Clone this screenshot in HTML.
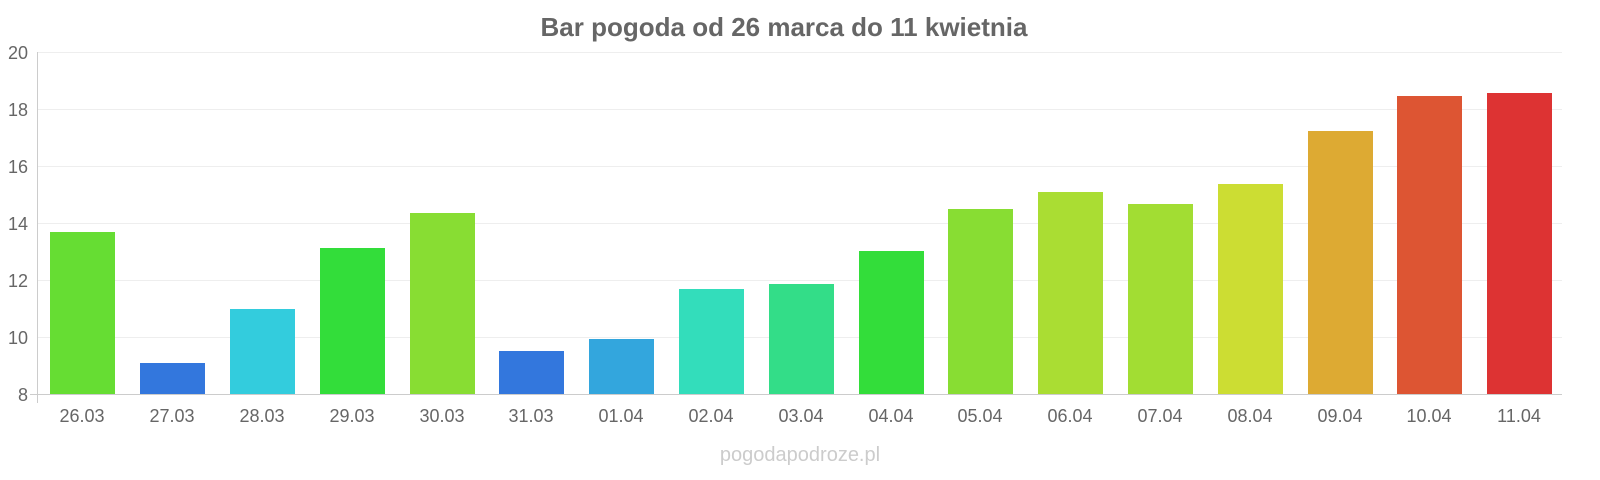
<!DOCTYPE html>
<html><head><meta charset="utf-8"><style>
body{margin:0;background:#fff;}
svg{display:block;font-family:"Liberation Sans",sans-serif;}
</style></head><body>
<svg width="1600" height="480" xmlns="http://www.w3.org/2000/svg">
<text x="784" y="36" text-anchor="middle" font-size="26" font-weight="bold" fill="#666">Bar pogoda od 26 marca do 11 kwietnia</text>
<g stroke="#eee" stroke-width="1">
<line x1="38" x2="1562" y1="52.5" y2="52.5"/>
<line x1="38" x2="1562" y1="109.5" y2="109.5"/>
<line x1="38" x2="1562" y1="166.5" y2="166.5"/>
<line x1="38" x2="1562" y1="223.5" y2="223.5"/>
<line x1="38" x2="1562" y1="280.5" y2="280.5"/>
<line x1="38" x2="1562" y1="337.5" y2="337.5"/>
</g>
<line x1="37.5" x2="37.5" y1="52" y2="403" stroke="#ccc"/>
<line x1="30" x2="1562" y1="394.5" y2="394.5" stroke="#ccc"/>
<g font-size="18" fill="#666" text-anchor="end">
<text x="28" y="59">20</text><text x="28" y="116">18</text><text x="28" y="173">16</text>
<text x="28" y="230">14</text><text x="28" y="287">12</text><text x="28" y="344">10</text><text x="28" y="401">8</text>
</g>
<g>
<rect x="50" y="232" width="65" height="162" fill="#66dd33"/>
<rect x="140" y="363" width="65" height="31" fill="#3377dd"/>
<rect x="230" y="309" width="65" height="85" fill="#33ccdd"/>
<rect x="320" y="248" width="65" height="146" fill="#33dd3a"/>
<rect x="410" y="213" width="65" height="181" fill="#88dd33"/>
<rect x="499" y="351" width="65" height="43" fill="#3377dd"/>
<rect x="589" y="339" width="65" height="55" fill="#33a6dd"/>
<rect x="679" y="289" width="65" height="105" fill="#33ddbb"/>
<rect x="769" y="284" width="65" height="110" fill="#33dd88"/>
<rect x="859" y="251" width="65" height="143" fill="#33dd3a"/>
<rect x="948" y="209" width="65" height="185" fill="#88dd33"/>
<rect x="1038" y="192" width="65" height="202" fill="#aadd33"/>
<rect x="1128" y="204" width="65" height="190" fill="#a2dd33"/>
<rect x="1218" y="184" width="65" height="210" fill="#ccdd33"/>
<rect x="1308" y="131" width="65" height="263" fill="#ddaa33"/>
<rect x="1397" y="96" width="65" height="298" fill="#dd5533"/>
<rect x="1487" y="93" width="65" height="301" fill="#dd3333"/>
</g>
<g font-size="18" fill="#666" text-anchor="middle">
<text x="82" y="422">26.03</text><text x="172" y="422">27.03</text><text x="262" y="422">28.03</text>
<text x="352" y="422">29.03</text><text x="442" y="422">30.03</text><text x="531" y="422">31.03</text>
<text x="621" y="422">01.04</text><text x="711" y="422">02.04</text><text x="801" y="422">03.04</text>
<text x="891" y="422">04.04</text><text x="980" y="422">05.04</text><text x="1070" y="422">06.04</text>
<text x="1160" y="422">07.04</text><text x="1250" y="422">08.04</text><text x="1340" y="422">09.04</text>
<text x="1429" y="422">10.04</text><text x="1519" y="422">11.04</text>
</g>
<text x="800" y="461" text-anchor="middle" font-size="20" fill="#ccc">pogodapodroze.pl</text>
</svg>
</body></html>
